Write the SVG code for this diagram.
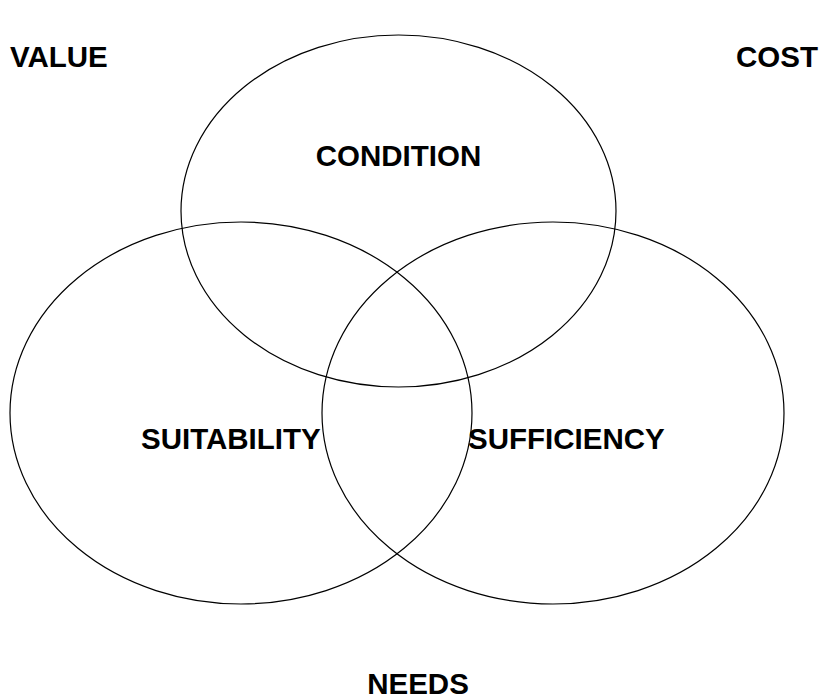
<svg xmlns="http://www.w3.org/2000/svg" width="825" height="698" viewBox="0 0 825 698">
  <style>
    .set { fill: none; stroke: #000; stroke-width: 1.2; }
    .lbl { font-family: "Liberation Sans", Arial, sans-serif; font-weight: bold; font-size: 29.5px; fill: #000; }
  </style>
  <rect width="825" height="698" fill="#fff"/>
  <g id="condition">
    <ellipse class="set" cx="398.5" cy="211" rx="217.5" ry="176"/>
    <text class="lbl" x="398.5" y="166" text-anchor="middle">CONDITION</text>
  </g>
  <g id="suitability">
    <ellipse class="set" cx="241" cy="413" rx="231" ry="191"/>
    <text class="lbl" x="141" y="449">SUITABILITY</text>
  </g>
  <g id="sufficiency">
    <ellipse class="set" cx="553" cy="413" rx="231" ry="191"/>
    <text class="lbl" x="468" y="449">SUFFICIENCY</text>
  </g>
  <g id="value">
    <text class="lbl" x="10" y="67">VALUE</text>
  </g>
  <g id="cost">
    <text class="lbl" x="818" y="67" text-anchor="end">COST</text>
  </g>
  <g id="needs">
    <text class="lbl" x="418" y="694" text-anchor="middle">NEEDS</text>
  </g>
  <g id="connectors"/>
</svg>
